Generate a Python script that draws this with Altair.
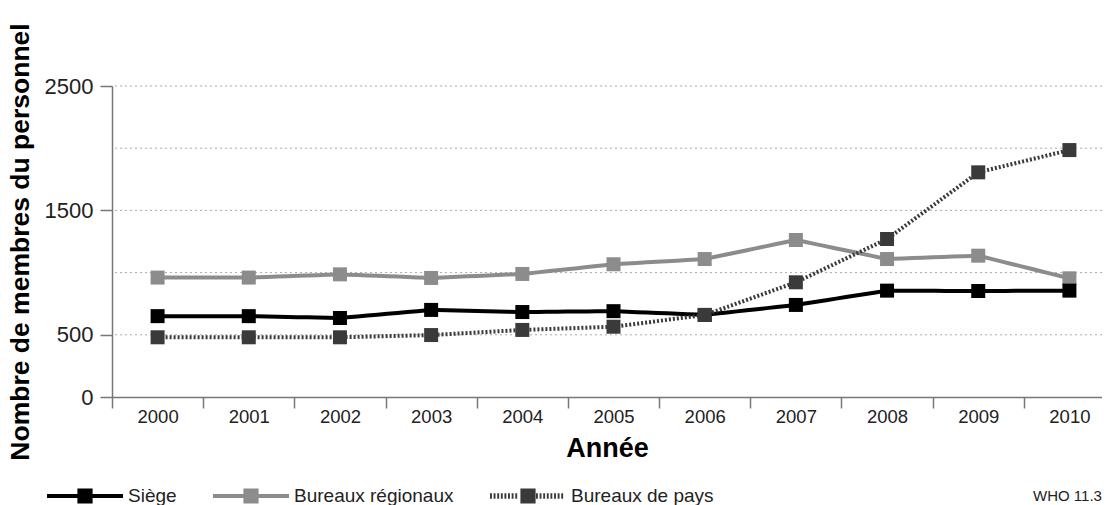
import altair as alt
import pandas as pd

# ---- data ----
years = [str(y) for y in range(2000, 2011)]
series_names = ["Siège", "Bureaux régionaux", "Bureaux de pays"]
siege = [650, 650, 635, 700, 683, 690, 660, 740, 855, 852, 855]
regionaux = [960, 960, 986, 957, 989, 1067, 1109, 1262, 1109, 1136, 954]
pays = [480, 480, 480, 498, 539, 565, 659, 922, 1270, 1806, 1985]
y_label_values = [0, 500, 1500, 2500]
grid_values = [500, 1000, 1500, 2000, 2500]
note_text = ["WHO 11.39"]

series_colors = ["#000000", "#8c8c8c", "#3a3a3a"]
series_dashes = [[10, 0], [10, 0], [2, 2]]
FONT = "Liberation Sans"

values_by_series = {
    "Siège": siege,
    "Bureaux régionaux": regionaux,
    "Bureaux de pays": pays,
}
rows = []
for s, vals in values_by_series.items():
    for yr, v in zip(years, vals):
        rows.append({"year": yr, "value": v, "series": s})
df = pd.DataFrame(rows)
grid_df = pd.DataFrame({"value": grid_values})
note_df = pd.DataFrame({"note": note_text})

# ---- legend symbol shapes (line + square) ----
square = " M-0.2,-0.2H0.2V0.2H-0.2Z"
solid_path = "M-1,-0.055H1V0.055H-1Z" + square
dots = []
def dash_run(a, b):
    x = a
    while x + 0.05 <= b:
        dots.append(f"M{x:.3f},-0.075H{x+0.05:.3f}V0.075H{x:.3f}Z")
        x += 0.095
dash_run(-1.0, -0.21)
dash_run(0.21, 1.0)
dotted_path = " ".join(dots) + square
shape_paths = [solid_path, solid_path, dotted_path]

# ---- shared encodings ----
x_enc = alt.X(
    "year:O",
    bandPosition=0.5,
    scale=alt.Scale(type="band", paddingInner=0, paddingOuter=0, range=[0, 1003]),
    axis=alt.Axis(
        title="Année", labelAngle=0, tickBand="extent", grid=False,
        labelFont=FONT, labelFontSize=18.5, labelColor="#222", labelPadding=-1,
        tickSize=11, tickColor="#777", tickWidth=1.5,
        domainColor="#777", domainWidth=1.5,
        titleFont=FONT, titleFontSize=27, titleFontWeight="bold", titleColor="#000",
        titlePadding=10, titleX=495,
    ),
)
y_enc = alt.Y(
    "value:Q",
    scale=alt.Scale(domain=[0, 2500], nice=False, zero=True),
    axis=alt.Axis(
        title="Nombre de membres du personnel", values=y_label_values, grid=False,
        format="d",
        labelFont=FONT, labelFontSize=22, labelColor="#222", labelPadding=7,
        tickSize=12, tickColor="#777", tickWidth=1.5,
        domainColor="#777", domainWidth=1.5,
        titleFont=FONT, titleFontSize=26.5, titleFontWeight="bold", titleColor="#000",
        titlePadding=10,
    ),
)

grid = alt.Chart(grid_df).mark_rule(
    color="#aaaaaa", strokeWidth=1, strokeDash=[2, 3]
).encode(y=y_enc)

layers = [grid]
draw_order = ["Bureaux régionaux", "Siège", "Bureaux de pays"]
for s in draw_order:
    i = series_names.index(s)
    base = alt.Chart(df).transform_filter(alt.datum.series == s)
    layers.append(
        base.mark_line(strokeWidth=4).encode(
            x=x_enc, y=y_enc,
            color=alt.value(series_colors[i]),
            strokeDash=alt.value(series_dashes[i]),
        )
    )
    layers.append(
        base.mark_point(shape="square", filled=True, size=196, opacity=1).encode(
            x=x_enc, y=y_enc, color=alt.value(series_colors[i])
        )
    )

leg = alt.Legend(
    title=None, orient="none", legendX=-65, legendY=372, direction="horizontal",
    columns=3, symbolSize=5776, symbolStrokeWidth=0, symbolOpacity=1,
    labelFont=FONT, labelFontSize=19, labelColor="#222", labelOffset=5,
    columnPadding=36, padding=0, labelLimit=400,
)
# legend-only layer: its rows are filtered away, the explicit scale domains keep the entries
legend_layer = alt.Chart(df).transform_filter("datum.value < 0").mark_point(
    filled=True, size=5776
).encode(
    x=x_enc, y=y_enc,
    fill=alt.Fill("series:N", scale=alt.Scale(domain=series_names, range=series_colors), legend=leg),
    shape=alt.Shape("series:N", scale=alt.Scale(domain=series_names, range=shape_paths), legend=leg),
)
layers.append(legend_layer)

note = alt.Chart(note_df).mark_text(
    align="left", baseline="middle", fontSize=15, font=FONT, color="#222"
).encode(x=alt.value(921), y=alt.value(410), text="note:N")
layers.append(note)

chart = alt.layer(*layers).properties(
    width=990, height=311,
    padding={"left": 104, "top": 78, "right": 0, "bottom": 108},
    autosize=alt.AutoSizeParams(type="none"),
).configure_view(stroke=None)

chart.save("out.html", embed_options={"renderer": "svg", "actions": False})
